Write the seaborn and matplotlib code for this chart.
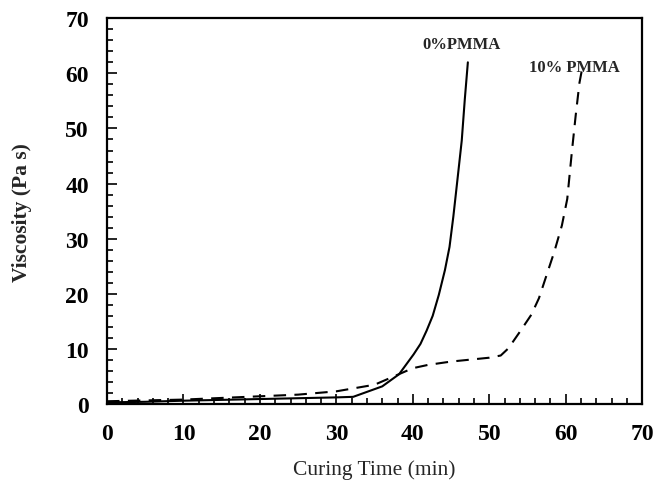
import numpy as np
import pandas as pd
import matplotlib
matplotlib.use("Agg")
import matplotlib.pyplot as plt
import seaborn as sns
from matplotlib.ticker import MultipleLocator

# Data
t_0 = [0, 5, 10, 20, 30, 32.2, 36.0, 38.2, 40.1, 41.0, 41.8, 42.6, 43.4, 44.2, 44.8, 45.3, 45.9, 46.4, 46.8, 47.2]
v_0 = [0.3, 0.4, 0.6, 0.9, 1.2, 1.3, 3.2, 5.4, 9.0, 10.9, 13.3, 16.0, 19.8, 24.3, 28.5, 34.0, 41.5, 47.8, 55.3, 62.0]
t_10 = [0, 10, 20, 25, 30, 35, 38, 40, 42, 45, 50, 51.5, 52.5, 54, 55.5, 56.5, 57.5, 58.5, 59.5, 60.2, 60.8, 61.3, 61.8, 62.1]
v_10 = [0.5, 0.8, 1.4, 1.7, 2.3, 3.5, 5.3, 6.5, 7.1, 7.7, 8.4, 8.8, 10.1, 13.1, 16.2, 19.2, 23.4, 27.6, 32.4, 37.2, 45.7, 52.3, 58.3, 60.5]
series_names = ["0%PMMA", "10% PMMA"]

df = pd.concat([
    pd.DataFrame({"time": t_0, "visc": v_0, "series": series_names[0]}),
    pd.DataFrame({"time": t_10, "visc": v_10, "series": series_names[1]}),
])

sns.set_style("ticks")
plt.rcParams["font.family"] = ["Liberation Serif", "DejaVu Serif"]

fig = plt.figure(figsize=(6.55, 4.81), dpi=100)
ax = fig.add_axes([0.1634, 0.158, 0.817, 0.802])

sns.lineplot(data=df, x="time", y="visc", style="series", color="black",
             dashes={series_names[0]: "", series_names[1]: (6, 4)},
             linewidth=1.5, sort=False, legend=False, ax=ax, estimator=None)

ax.set_xlim(0, 70)
ax.set_ylim(0, 70)
ax.xaxis.set_major_locator(MultipleLocator(10))
ax.xaxis.set_minor_locator(MultipleLocator(2))
ax.yaxis.set_major_locator(MultipleLocator(10))
ax.yaxis.set_minor_locator(MultipleLocator(2))
ax.tick_params(which="both", direction="in", top=False, right=False, width=1.2, colors="black")
ax.tick_params(which="major", length=7, labelsize=17)
ax.tick_params(axis="y", which="major", pad=13)
ax.tick_params(axis="x", which="major", pad=14)
ax.tick_params(which="minor", length=4)
for lbl in ax.get_xticklabels() + ax.get_yticklabels():
    lbl.set_fontweight("bold")
for s in ax.spines.values():
    s.set_linewidth(1.6)
    s.set_color("black")

ax.set_xlabel("Curing Time (min)", fontsize=15.5)
ax.set_ylabel("Viscosity (Pa s)", fontsize=15.5, fontweight="bold")
ax.xaxis.set_label_coords(0.5, -0.168)
ax.yaxis.set_label_coords(-0.159, 0.5)
ax.xaxis.label.set_va("center")
ax.yaxis.label.set_va("center")

ax.text(46.4, 65.3, series_names[0], ha="center", va="center", fontsize=12, fontweight="bold")
ax.text(61.1, 61.1, series_names[1], ha="center", va="center", fontsize=12, fontweight="bold")

fig.savefig("out.png", dpi=100)
